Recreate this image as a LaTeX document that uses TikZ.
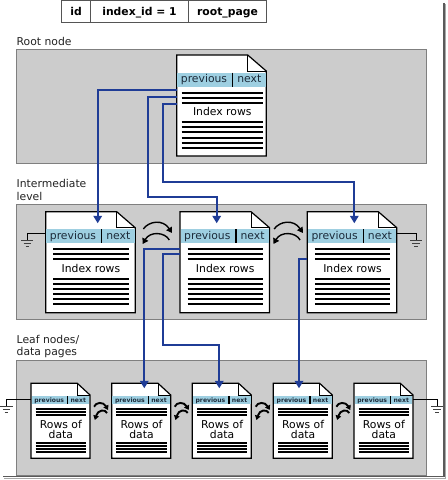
\documentclass[tikz,border=0pt]{standalone}
\usepackage{fontspec}
\setmainfont{DejaVu Sans}
\usetikzlibrary{arrows.meta,calc}
\definecolor{panelgray}{HTML}{CCCCCC}
\definecolor{panelbd}{HTML}{7F7F7F}
\definecolor{hdrblue}{HTML}{9ECFE1}
\definecolor{hdrtext}{HTML}{1C2B3A}
\definecolor{connblue}{HTML}{1F3C96}
\definecolor{labeltext}{HTML}{222222}
\definecolor{tablebd}{HTML}{555555}
\definecolor{frameA}{HTML}{5A5A5A}
\definecolor{frameB}{HTML}{A8A8A8}
\tikzset{
  panel/.style={draw=panelbd, fill=panelgray, line width=0.9bp, inner sep=0, outer sep=0, anchor=north west},
  pagebox/.style={inner sep=0, outer sep=0, anchor=north west},
  pageout/.style={draw=black, fill=white, line width=1.2bp, line join=miter},
  foldln/.style={draw=black, line width=0.8bp},
  divln/.style={draw=black, line width=1.1bp},
  hdrtxt/.style={font=\fontsize{10.8bp}{12bp}\selectfont, text=hdrtext, inner sep=0},
  smallhdr/.style={font=\bfseries\fontsize{6.1bp}{7bp}\selectfont, text=hdrtext, inner sep=0},
  rowln/.style={line width=2bp},
  smallrow/.style={line width=1.65bp},
  bodytxt/.style={font=\fontsize{10.8bp}{12bp}\selectfont, inner sep=0},
  leaftxt/.style={font=\fontsize{10.8bp}{10.3bp}\selectfont, align=center, inner sep=0},
  lbl/.style={anchor=base west, inner sep=0, font=\fontsize{10.8bp}{13bp}\selectfont, text=labeltext},
  cell/.style={draw=tablebd, fill=white, line width=1bp, anchor=north west, minimum height=21.7bp,
    inner sep=0, outer sep=0, font=\bfseries\fontsize{10.8bp}{12bp}\selectfont, text height=8bp, text depth=0.5bp},
  conn/.style={draw=connblue, line width=1.8bp, -{Triangle[width=8.5bp,length=7.5bp]}},
  rootconn/.style={draw=black, line width=1.6bp},
  gndwire/.style={draw=black, line width=0.9bp},
  gndbar/.style={draw=black!75, line width=1bp},
  swaparr/.style={draw=black, line width=1.4bp, -{Triangle[width=6.5bp,length=5.5bp]}},
  smallswaparr/.style={draw=black, line width=1.9bp, -{Triangle[width=5.5bp,length=4.5bp]}}
}
\newcommand\bigpg[5]{%
  \node[pagebox, minimum width=89.5bp, minimum height=101bp] (#1) at (#2,#3) {};
  \filldraw[pageout] (#1.north west) -- ($(#1.north east)+(-18.5,0)$) -- ($(#1.north east)+(0,16)$)
     -- (#1.south east) -- (#1.south west) -- cycle;
  \fill[hdrblue] ($(#1.north west)+(0.6,17.7)$) rectangle ($(#1.north east)+(-0.6,31.7)$);
  \draw[foldln] ($(#1.north east)+(-18.5,0)$) |- ($(#1.north east)+(0,16)$);
  \draw[divln] ($(#1.north west)+(56,17.7)$) -- ($(#1.north west)+(56,31.7)$);
  \node[hdrtxt, anchor=base] at ($(#1.north west)+(27.3,27.9)$) {previous};
  \node[hdrtxt, anchor=base] at ($(#1.north west)+(72.6,27.9)$) {next};
  \foreach \yy in {37.7,42.7,47.7,67.3,72.38,77.46,82.54,87.62,92.7}
    {\draw[rowln] ($(#1.north west)+(#4,\yy)$) -- ($(#1.north east)+(-#5,\yy)$);}
  \node[bodytxt, anchor=base] at ($(#1.north)+({(#4-#5)/2},61)$) {Index rows};
}
\newcommand\leafpg[3]{%
  \node[pagebox, minimum width=59bp, minimum height=75bp] (#1) at (#2,#3) {};
  \filldraw[pageout] (#1.north west) -- ($(#1.north east)+(-12.7,0)$) -- ($(#1.north east)+(0,11.7)$)
     -- (#1.south east) -- (#1.south west) -- cycle;
  \fill[hdrblue] ($(#1.north west)+(0.6,12.7)$) rectangle ($(#1.north east)+(-0.6,20.7)$);
  \draw[foldln] ($(#1.north east)+(-12.7,0)$) |- ($(#1.north east)+(0,11.7)$);
  \draw[divln] ($(#1.north west)+(36.7,12.7)$) -- ($(#1.north west)+(36.7,20.7)$);
  \node[smallhdr, anchor=base] at ($(#1.north west)+(18.2,18.7)$) {previous};
  \node[smallhdr, anchor=base] at ($(#1.north west)+(47.3,18.7)$) {next};
  \foreach \yy in {26,28.8,31.6,60,62.8,65.6,68.4}
    {\draw[smallrow] ($(#1.north west)+(4.7,\yy)$) -- ($(#1.north east)+(-4,\yy)$);}
  \node[leaftxt] at ($(#1.north)+(0.35,45.9)$) {Rows of\\data};
}
\newcommand\gndsym[2]{%
  \draw[gndbar] (#1-6,#2) -- (#1+6,#2) (#1-3.6,#2+3.1) -- (#1+3.6,#2+3.1) (#1-1.8,#2+6.2) -- (#1+1.8,#2+6.2);
}
\newcommand\bigswap[1]{%
  \begin{scope}[shift={(#1,0)}]
    \draw[swaparr] (-14.2,229) .. controls (-8.5,221) and (5.5,219) .. (14.5,233);
    \draw[swaparr] (11.8,240) .. controls (7.5,232) and (-7.5,231) .. (-14.8,244);
  \end{scope}
}
\newcommand\smallswap[1]{%
  \begin{scope}[shift={(#1,0)}]
    \draw[smallswaparr] (-6.8,406.7) .. controls (-5,402) and (2.5,401.5) .. (7.2,410);
    \draw[smallswaparr] (6.2,413) .. controls (4.5,409) and (-3,409.5) .. (-6,420);
  \end{scope}
}
\begin{document}
\begin{tikzpicture}[x=1bp,y=-1bp]
\useasboundingbox (0,0) rectangle (448,480);
% panels
\node[panel, minimum width=410bp, minimum height=114bp] (rootpanel) at (16.7,49.3) {};
\node[panel, minimum width=410bp, minimum height=114.7bp] (midpanel) at (16.7,204.3) {};
\node[panel, minimum width=410bp, minimum height=114.3bp] (leafpanel) at (16.7,360.7) {};
% labels
\node[lbl] (lroot) at (16.5,45.5) {Root node};
\node[lbl] (lmid1) at (16.5,187.7) {Intermediate};
\node[lbl] (lmid2) at (16.5,200) {level};
\node[lbl] (lleaf1) at (16.5,343.3) {Leaf nodes/};
\node[lbl] (lleaf2) at (16.5,355.7) {data pages};
% top table
\node[cell, minimum width=29bp] (tid) at (61.7,1) {id};
\node[cell, minimum width=97.6bp] (tindex) at (90.7,1) {index\_id = 1};
\node[cell, minimum width=78.4bp] (troot) at (188.3,1) {root\_page};
% pages
\bigpg{root}{176.7}{55}{5}{3.4}
\bigpg{im1}{45.7}{211.7}{7.6}{6.7}
\bigpg{im2}{180}{211.7}{7.6}{6.7}
\bigpg{im3}{307.3}{211.7}{7.6}{6.7}
\leafpg{lf1}{31}{383.3}
\leafpg{lf2}{111.7}{383.3}
\leafpg{lf3}{192.3}{383.3}
\leafpg{lf4}{273.3}{383.3}
\leafpg{lf5}{354}{383.3}
% root pointer
\draw[rootconn] ($(troot.south)+(-4.2,0)$) -- ($(troot.south)+(-4.2,0)$ |- root.north);
% ground symbols
\draw[gndwire] ($(im1.north west)+(0,21.5)$) -| (27.3,240.7);
\gndsym{27.3}{240.7}
\draw[gndwire] ($(im3.north east)+(0,21.5)$) -| (416,240.7);
\gndsym{416}{240.7}
\draw[gndwire] ($(lf1.north west)+(0,16.3)$) -| (6.5,406.7);
\gndsym{6.5}{406.7}
\draw[gndwire] ($(lf5.north east)+(0,16.3)$) -| (437,406.7);
\gndsym{437}{406.7}
% previous/next arrows
\bigswap{157.5}
\bigswap{288.3}
\smallswap{100.85}
\smallswap{181.5}
\smallswap{262.5}
\smallswap{343.15}
% index pointers
\draw[conn] ($(root.north west)+(0,35)$) -| ($(im1.north west)+(52,11.6)$);
\draw[conn] ($(root.north west)+(0,42.3)$) -| (148.3,196.7) -| ($(im2.north west)+(36.7,11.6)$);
\draw[conn] ($(root.north west)+(0,49)$) -| (162.7,182.3) -| ($(im3.north west)+(47,11.6)$);
\draw[conn] ($(im2.north west)+(0,37.6)$) -| ($(lf2.north west)+(32.6,5)$);
\draw[conn] ($(im2.north west)+(0,42.6)$) -| (163.3,345) -| ($(lf3.north west)+(27,5)$);
\draw[conn] ($(im3.north west)+(0,47.3)$) -| ($(lf4.north west)+(25.7,5)$);
% frame shadow
\draw[frameA, line width=1.3bp] (444,3) -- (444,476.8) -- (3,476.8);
\draw[frameB, line width=1.1bp] (445.4,4) -- (445.4,478.2) -- (4,478.2);
\end{tikzpicture}
\end{document}
